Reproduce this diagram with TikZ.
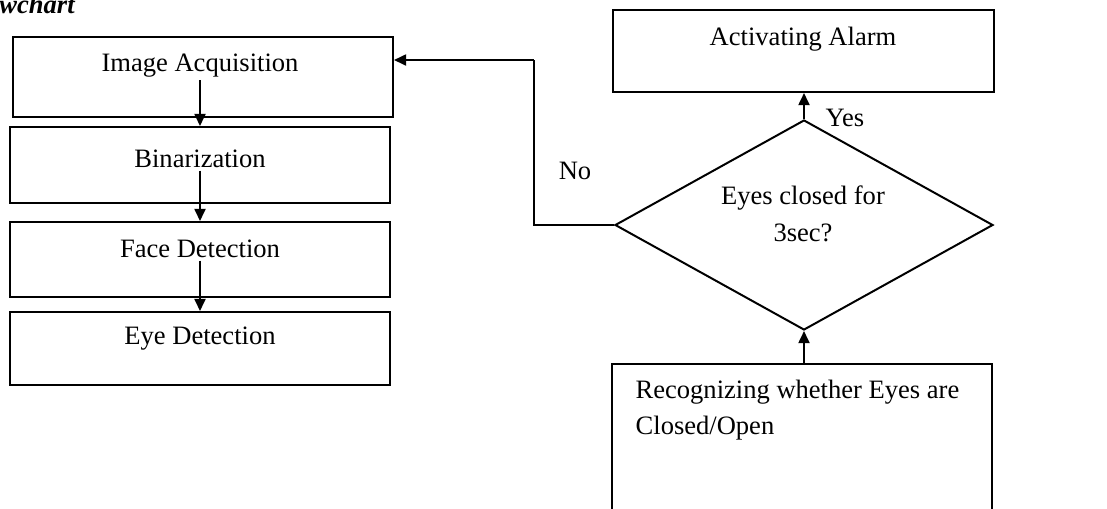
\documentclass[tikz,border=0pt]{standalone}
\usepackage{fontspec}
\setmainfont{Liberation Serif}
\usetikzlibrary{shapes.geometric,arrows.meta}
\newcommand{\pxu}{0.452pt}

\begin{document}
\begin{tikzpicture}[x=0.452pt,y=-0.452pt,
    box/.style={draw,line width=0.9pt,inner sep=0pt,minimum width=380*\pxu},
    txt/.style={inner sep=1pt,font=\fontsize{12}{16.5}\selectfont},
    arr/.style={line width=0.9pt,-{Triangle[length=5.5pt,width=5pt]}}]
    \useasboundingbox (0,0) rectangle (1107,508);
    \node[txt,inner sep=0pt,anchor=base west,font=\fontsize{12}{14}\selectfont\bfseries\itshape] (title) at (-1,13) {wchart};
    % left column
    \node[box,minimum height=80*\pxu] (acq) at (203,77) {};
    \node[box,minimum height=76*\pxu] (bin) at (200,165) {};
    \node[box,minimum height=75*\pxu] (face) at (200,259.5) {};
    \node[box,minimum height=73*\pxu] (eye) at (200,348.5) {};
    \node[txt] (acqtxt) at (200,66) {Image Acquisition};
    \node[txt] (bintxt) at (200,159) {Binarization};
    \node[txt] (facetxt) at (200,249) {Face Detection};
    \node[txt] (eyetxt) at (200,339) {Eye Detection};
    \draw[arr] (acqtxt) -- (bin);
    \draw[arr] (bintxt) -- (face);
    \draw[arr] (facetxt) -- (eye);
    % right column
    \node[box,minimum width=381*\pxu,minimum height=82*\pxu] (alarm) at (803,51) {};
    \node[txt] (alarmtxt) at (803,39) {Activating Alarm};
    \node[draw,diamond,line width=0.9pt,inner sep=0pt,aspect=1.8,
          minimum width=378*\pxu,minimum height=210*\pxu] (dia) at (804,225) {};
    \node[txt,align=center] (diatxt) at (803,214) {Eyes closed for\\3sec?};
    \node[box,minimum height=176*\pxu] (recog) at (802,452) {};
    \node[txt,align=left,anchor=west] (recogtxt) at (633,410) {Recognizing whether Eyes are\\Closed/Open};
    \draw[arr] (recog.north -| dia.south) -- (dia.south);
    \draw[arr] (dia.north) -- (alarm.south -| dia.north);
    \node[txt] (yes) at (845,118) {Yes};
    \node[txt] (no) at (575,171) {No};
    \coordinate (nobend) at (534,60);
    \draw[line width=0.5pt] (dia.west) -| (nobend);
    \draw[arr] (nobend) -- (acq.east |- nobend);
\end{tikzpicture}
\end{document}
